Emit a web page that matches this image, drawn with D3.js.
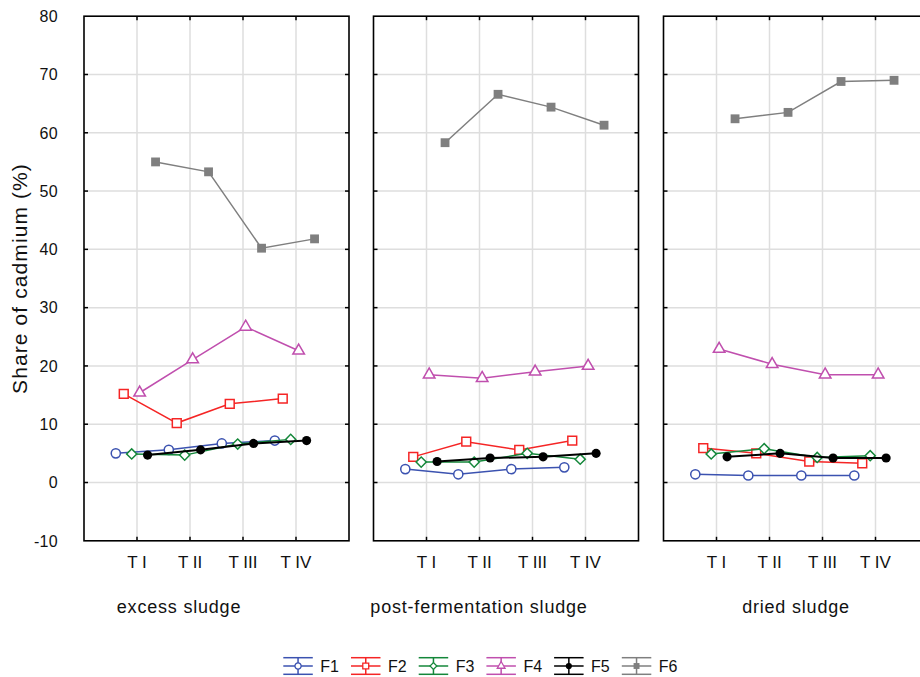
<!DOCTYPE html>
<html>
<head>
<meta charset="utf-8">
<script src="https://cdn.jsdelivr.net/npm/d3@7"></script>
<style>
  html, body { margin: 0; padding: 0; background: #fff; }
  svg { display: block; font-family: "Liberation Sans", Arial, sans-serif; }
</style>
</head>
<body>
<svg id="chart" width="920" height="677"></svg>
<script>
// Sampling times (x categories) and sludge types (panels)
const categories = ["T I", "T II", "T III", "T IV"];
const panels = ["excess sludge", "post-fermentation sludge", "dried sludge"];
const seriesNames = ["F1", "F2", "F3", "F4", "F5", "F6"];
const yTicks = [-10, 0, 10, 20, 30, 40, 50, 60, 70, 80];

// Share of cadmium (%) per fraction, one array per panel (T I .. T IV)
const F1 = [[5.0, 5.6, 6.7, 7.2], [2.3, 1.4, 2.3, 2.6], [1.4, 1.2, 1.2, 1.2]];
const F2 = [[15.2, 10.2, 13.5, 14.4], [4.4, 7.0, 5.6, 7.2], [5.9, 5.0, 3.6, 3.3]];
const F3 = [[4.9, 4.7, 6.6, 7.4], [3.5, 3.5, 5.0, 4.0], [4.9, 5.8, 4.3, 4.6]];
const F4 = [[15.4, 21.1, 26.7, 22.6], [18.5, 17.9, 19.0, 20.0], [22.9, 20.3, 18.5, 18.5]];
const F5 = [[4.7, 5.6, 6.7, 7.2], [3.6, 4.2, 4.4, 5.0], [4.4, 5.0, 4.2, 4.2]];
const F6 = [[55.0, 53.3, 40.2, 41.8], [58.3, 66.6, 64.4, 61.3], [62.4, 63.5, 68.8, 69.0]];

const seriesValues = [F1, F2, F3, F4, F5, F6];

// Styling per series
const colors = ["#3b52b0", "#f52525", "#14873a", "#c04fae", "#000000", "#7f7f7f"];
const shapes = ["circle", "square", "diamond", "triangle", "circle", "square"];
const filled = [false, false, false, false, true, true];
const dodge = [-0.40, -0.25, -0.10, 0.05, 0.20, 0.35];

const svg = d3.select("#chart");

const plotTop = 16.2, plotBottom = 540.8;
const panelLeft = [84, 373.5, 663.5];
const panelWidth = 265;
const labelCenters = [179, 479, 796];

const y = d3.scaleLinear().domain([-10, 80]).range([plotBottom, plotTop]);

// marker path + extra rotation (diamond = square turned 45 degrees)
const markerDef = {
  circle:   { type: d3.symbolCircle,   size: 66, rot: 0 },
  square:   { type: d3.symbolSquare,   size: 78, rot: 0 },
  diamond:  { type: d3.symbolSquare,   size: 52, rot: 45 },
  triangle: { type: d3.symbolTriangle, size: 58, rot: 0 }
};
const markerPath = (shape, scale = 1) =>
  d3.symbol().type(markerDef[shape].type).size(markerDef[shape].size * scale)();

const tickLen = 4;
const gridColor = "#dedede";

panels.forEach((name, p) => {
  const left = panelLeft[p];
  const x = d3.scaleLinear().domain([0, 5]).range([left, left + panelWidth]);
  const g = svg.append("g");
  const yT = yTicks.filter(v => v > -10 && v < 80);

  // grid
  g.selectAll(null)
    .data(yT)
    .join("line")
    .attr("x1", x(0)).attr("x2", x(5))
    .attr("y1", d => y(d)).attr("y2", d => y(d))
    .attr("stroke", gridColor).attr("stroke-width", 1.5);
  g.selectAll(null)
    .data(categories)
    .join("line")
    .attr("x1", (d, i) => x(i + 1)).attr("x2", (d, i) => x(i + 1))
    .attr("y1", plotTop).attr("y2", plotBottom)
    .attr("stroke", gridColor).attr("stroke-width", 1.5);

  // series
  seriesValues.forEach((vals, s) => {
    const pts = vals[p].map((v, i) => [x(i + 1 + dodge[s]), y(v)]);
    g.append("path")
      .attr("d", d3.line()(pts))
      .attr("fill", "none")
      .attr("stroke", colors[s])
      .attr("stroke-width", s === 4 ? 2 : 1.5);
    g.selectAll(null)
      .data(pts)
      .join("path")
      .attr("transform", d => `translate(${d[0]},${d[1]}) rotate(${markerDef[shapes[s]].rot})`)
      .attr("d", markerPath(shapes[s]))
      .attr("fill", filled[s] ? colors[s] : "#fff")
      .attr("stroke", colors[s])
      .attr("stroke-width", filled[s] ? 0 : 1.5);
  });

  // frame
  g.append("rect")
    .attr("x", x(0)).attr("y", plotTop)
    .attr("width", panelWidth).attr("height", plotBottom - plotTop)
    .attr("fill", "none").attr("stroke", "#000").attr("stroke-width", 1.6);

  // inward ticks on all sides
  g.selectAll(null).data(yT).join("line")
    .attr("x1", x(0)).attr("x2", x(0) + tickLen)
    .attr("y1", d => y(d)).attr("y2", d => y(d))
    .attr("stroke", "#000").attr("stroke-width", 1.5);
  g.selectAll(null).data(yT).join("line")
    .attr("x1", x(5)).attr("x2", x(5) - tickLen)
    .attr("y1", d => y(d)).attr("y2", d => y(d))
    .attr("stroke", "#000").attr("stroke-width", 1.5);
  g.selectAll(null).data(categories).join("line")
    .attr("x1", (d, i) => x(i + 1)).attr("x2", (d, i) => x(i + 1))
    .attr("y1", plotTop).attr("y2", plotTop + tickLen)
    .attr("stroke", "#000").attr("stroke-width", 1.5);
  g.selectAll(null).data(categories).join("line")
    .attr("x1", (d, i) => x(i + 1)).attr("x2", (d, i) => x(i + 1))
    .attr("y1", plotBottom).attr("y2", plotBottom - tickLen)
    .attr("stroke", "#000").attr("stroke-width", 1.5);

  // category labels
  g.selectAll(null).data(categories).join("text")
    .attr("x", (d, i) => x(i + 1))
    .attr("y", 568)
    .attr("text-anchor", "middle")
    .attr("font-size", 17)
    .attr("fill", "#111")
    .text(d => d);

  // panel label
  g.append("text")
    .attr("x", labelCenters[p])
    .attr("y", 613)
    .attr("text-anchor", "middle")
    .attr("font-size", 18)
    .attr("letter-spacing", 0.8)
    .attr("fill", "#111")
    .text(name);
});

// y axis labels (first panel only)
svg.append("g").selectAll("text")
  .data(yTicks)
  .join("text")
  .attr("x", 58)
  .attr("y", d => y(d))
  .attr("dy", "0.36em")
  .attr("text-anchor", "end")
  .attr("font-size", 16)
  .attr("letter-spacing", 0.3)
  .attr("fill", "#111")
  .text(d => d);

svg.append("text")
  .attr("transform", `translate(27,${(plotTop + plotBottom) / 2}) rotate(-90)`)
  .attr("text-anchor", "middle")
  .attr("font-size", 21)
  .attr("letter-spacing", 1.1)
  .attr("fill", "#111")
  .text("Share of cadmium (%)");

// legend
const legend = svg.append("g");
const legendX = 283.3, legendStep = 67.7, legendY = 666;
seriesNames.forEach((name, s) => {
  const lx = legendX + s * legendStep;
  const item = legend.append("g");
  [-8.3, 0, 8.3].forEach(dy => {
    item.append("line")
      .attr("x1", lx).attr("x2", lx + 29.5)
      .attr("y1", legendY + dy).attr("y2", legendY + dy)
      .attr("stroke", colors[s]).attr("stroke-width", 1.5);
  });
  item.append("line")
    .attr("x1", lx + 14.75).attr("x2", lx + 14.75)
    .attr("y1", legendY - 8.3).attr("y2", legendY + 8.3)
    .attr("stroke", colors[s]).attr("stroke-width", 1.5);
  item.append("path")
    .attr("transform", `translate(${lx + 14.75},${legendY}) rotate(${markerDef[shapes[s]].rot})`)
    .attr("d", markerPath(shapes[s], 0.45))
    .attr("fill", filled[s] ? colors[s] : "#fff")
    .attr("stroke", colors[s])
    .attr("stroke-width", filled[s] ? 0 : 1.3);
  item.append("text")
    .attr("x", lx + 37)
    .attr("y", legendY)
    .attr("dy", "0.36em")
    .attr("font-size", 16)
    .attr("fill", "#111")
    .text(name);
});
</script>
</body>
</html>
